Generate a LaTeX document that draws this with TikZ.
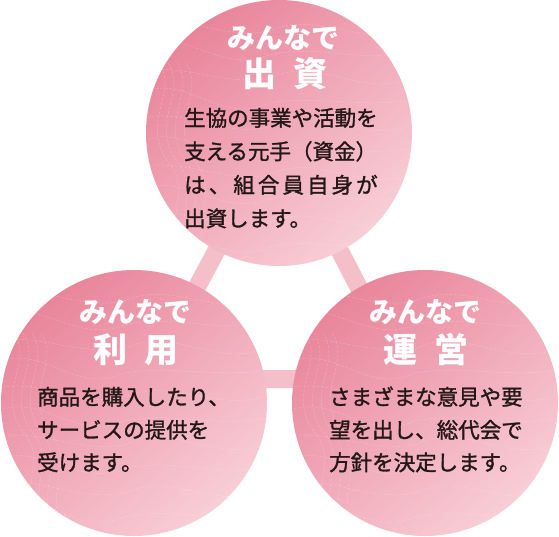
\documentclass[tikz,border=0pt]{standalone}
\usepackage{fontspec}
\setmainfont{Noto Sans CJK JP}
\newfontfamily\bodyjp{Noto Sans CJK JP}[FakeBold=1.3]
\definecolor{pinkdark}{HTML}{E9859B}
\definecolor{pinklight}{HTML}{F8CED6}
\definecolor{bandpink}{HTML}{F5BFCA}
\definecolor{ink}{HTML}{231815}
\begin{document}
\begin{tikzpicture}[x=1pt,y=-1pt,
  disc/.style={circle, minimum size=266pt, inner sep=0pt, top color=pinkdark, bottom color=pinklight, shading angle=40},
  bandline/.style={draw=bandpink, line width=18pt, line join=miter},
  contour/.style={white, opacity=0.22, line width=0.5pt, dash pattern=on 3pt off 1.5pt},
  ttl/.style={text=white, inner sep=0pt, font=\fontsize{28}{28}\selectfont\bfseries},
  ttlb/.style={text=white, inner sep=0pt, font=\fontsize{34}{34}\selectfont\bfseries},
  body/.style={text=ink, inner sep=0pt, anchor=base west, font=\bodyjp\fontsize{21.5}{30}\selectfont}]
\useasboundingbox (0,0) rectangle (559,536);
\fill[white] (0,0) rectangle (559,536);
% connecting triangle
\coordinate (vT) at (279,133);
\coordinate (vL) at (148,379);
\coordinate (vR) at (406,379);
\draw[bandline] (vT) -- (vL) -- (vR) -- cycle;
% circles
\node[disc] (top) at (279,133) {};
\node[disc] (left) at (134,403) {};
\node[disc] (right) at (425,403) {};
% contour texture
\foreach \cx/\cy in {279/133, 134/403, 425/403} {
  \begin{scope}
    \clip (\cx,\cy) circle (133pt);
    \begin{scope}[shift={(\cx,\cy)}]
      \foreach \k/\a in {0/6,1/-4,2/10,3/-8,4/5,5/-6,6/9,7/-3,8/7,9/-5} {
        \draw[contour] (-140,-110+\k*24) .. controls (-95,-128+\k*24+\a) and (-60,-86+\k*24-\a) .. (-10,-102+\k*24)
          .. controls (40,-118+\k*24-\a) and (85,-88+\k*24+\a) .. (140,-106+\k*24);
      }
      \foreach \k in {0,...,3} {
        \draw[contour] (-120+\k*9,-70) .. controls (-100+\k*9,-40) and (-140+\k*9,-10) .. (-110+\k*9,30)
          .. controls (-85+\k*9,60) and (-120+\k*9,90) .. (-95+\k*9,130);
      }
    \end{scope}
  \end{scope}
}
% top circle texts
\node[ttl] (t1) at (283,38) {みんなで};
\node[ttlb] (t2) at (285,74) {出\hspace{0.5em}資};
\node[body] (tb1) at (184,126) {生協の事業や活動を};
\node[body] (tb2) at (184,159.5) {支える元手（資金）};
\node[body] (tb3) at (184,193) {\hbox to 9em{は\hfill 、\hfill 組\hfill 合\hfill 員\hfill 自\hfill 身\hfill が}};
\node[body] (tb4) at (184,226.5) {出資します。};
% left circle texts
\node[ttl] (l1) at (135,312) {みんなで};
\node[ttlb] (l2) at (136,350) {利\hspace{0.5em}用};
\node[body] (lb1) at (37,405) {商品を購入したり、};
\node[body] (lb2) at (37,438) {サービスの提供を};
\node[body] (lb3) at (37,470.5) {受けます。};
% right circle texts
\node[ttl] (r1) at (425,312) {みんなで};
\node[ttlb] (r2) at (426,350) {運\hspace{0.5em}営};
\node[body] (rb1) at (329,405) {さまざまな意見や要};
\node[body] (rb2) at (329,438) {望を出し、総代会で};
\node[body] (rb3) at (329,470.5) {方針を決定します。};
\end{tikzpicture}
\end{document}
